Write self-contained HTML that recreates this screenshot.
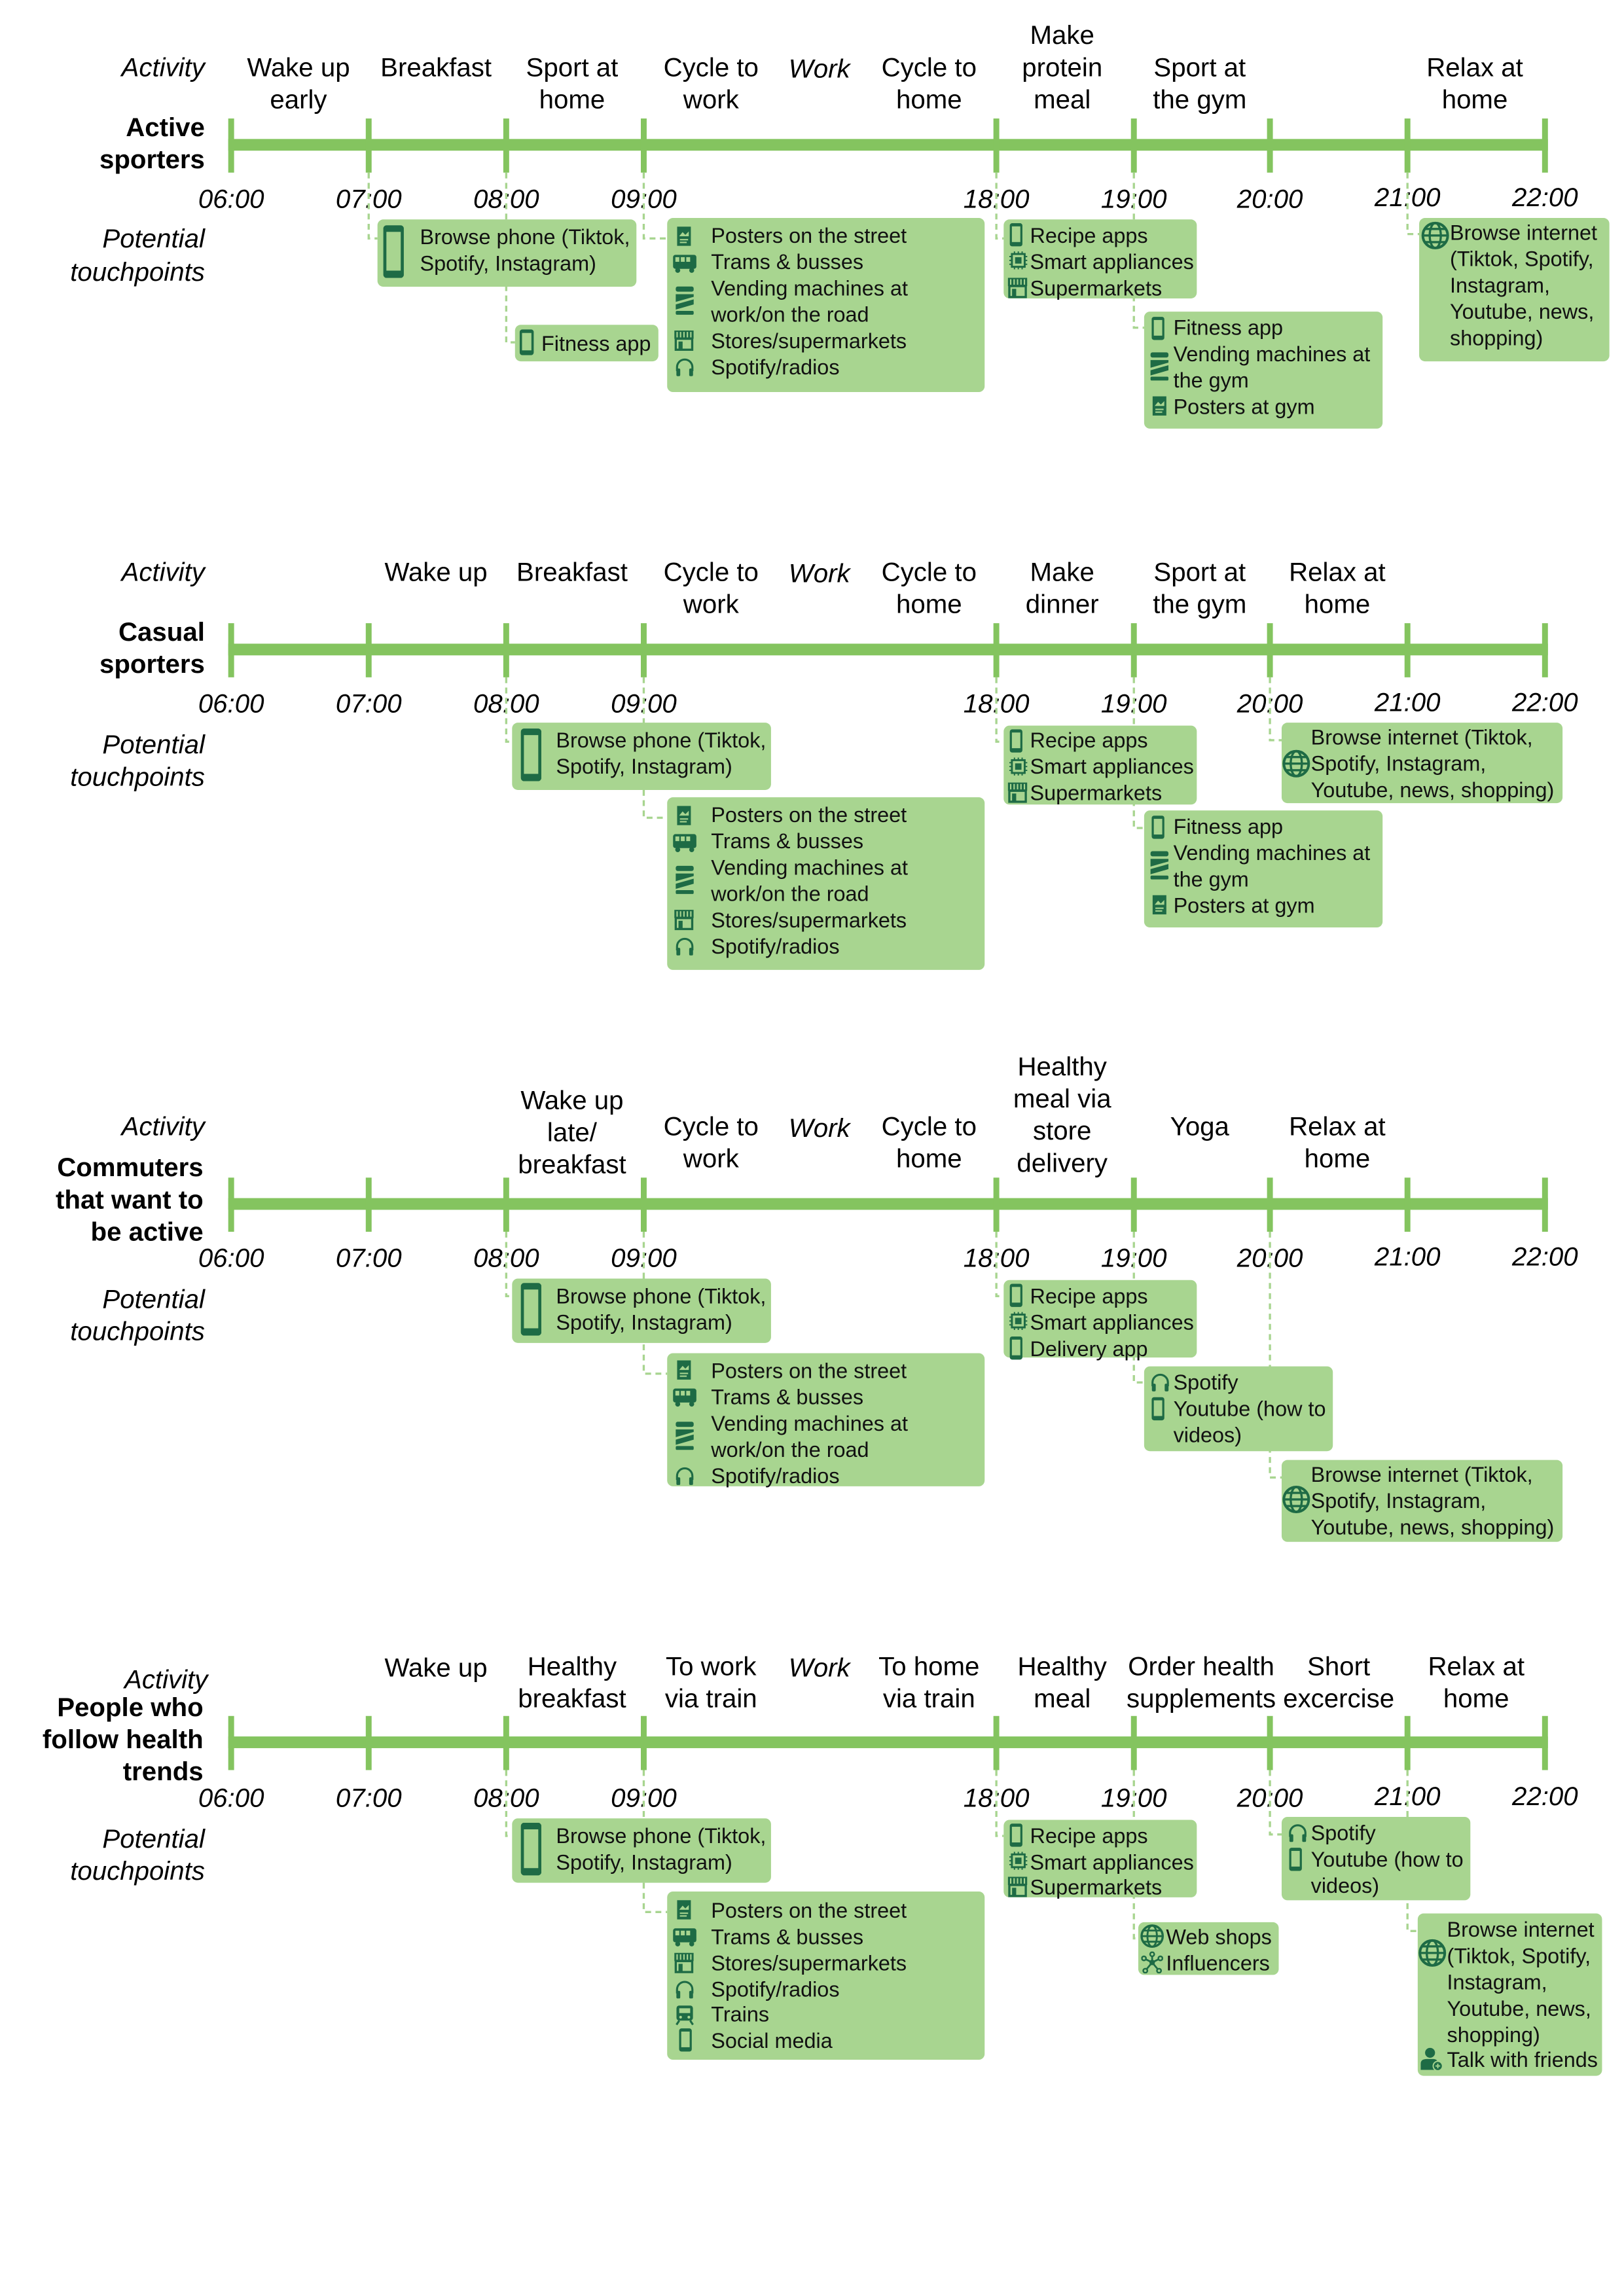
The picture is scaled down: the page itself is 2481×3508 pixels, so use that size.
<!DOCTYPE html>
<html><head><meta charset="utf-8"><style>
html,body{margin:0;padding:0;background:#fff;}
svg{display:block;}
text{font-family:"Liberation Sans",Arial,sans-serif;fill:#000;dominant-baseline:central;}
.a{font-size:18px;text-anchor:middle;}
.i{font-style:italic;}
.t{font-size:18px;font-style:italic;text-anchor:middle;}
.l{font-size:18px;text-anchor:end;}
.b{font-size:18px;font-weight:bold;text-anchor:end;}
.s{font-size:14.5px;fill:#111;}
.box{fill:#a8d590;}
.bar{fill:#84c45f;}
.c{fill:none;stroke:#a8d590;stroke-width:1.5;stroke-dasharray:4 3;}
</style></head><body>
<svg width="2481" height="3508" viewBox="0 0 1110 1569.5" preserveAspectRatio="none" xmlns="http://www.w3.org/2000/svg">
<defs>
<symbol id="ph" viewBox="0 0 10 18"><rect x="1" y="1" width="8" height="16" rx="1" fill="none" stroke="#1e6b45" stroke-width="1.6"/><rect x="1" y="14.5" width="8" height="2.5" fill="#1e6b45"/><rect x="1" y="1" width="8" height="1.6" fill="#1e6b45"/></symbol>
<symbol id="po" viewBox="0 0 16 16"><rect x="3" y="1" width="10" height="14" fill="#1e6b45"/><path d="M4.5 8 L7 5 L9 7 L11.5 4.5 V8Z" fill="#a8d590"/><rect x="5" y="10" width="6" height="1" fill="#a8d590"/><rect x="5" y="12" width="5" height="1" fill="#a8d590"/></symbol>
<symbol id="bu" viewBox="0 0 16 16"><rect x="0.5" y="3" width="15" height="9" rx="1.5" fill="#1e6b45"/><rect x="2" y="4.5" width="2.5" height="3" fill="#a8d590"/><rect x="5.5" y="4.5" width="2.5" height="3" fill="#a8d590"/><rect x="9" y="4.5" width="2.5" height="3" fill="#a8d590"/><circle cx="3.5" cy="13" r="1.6" fill="#1e6b45"/><circle cx="12.5" cy="13" r="1.6" fill="#1e6b45"/></symbol>
<symbol id="ve" viewBox="0 0 16 24"><rect x="1" y="1" width="14" height="4" rx="1.5" fill="#1e6b45"/><path d="M1 7 H15 V9 L1 13Z M1 15 L15 11 V15 L1 19Z" fill="#1e6b45"/><rect x="1" y="20" width="14" height="3" rx="1" fill="#1e6b45"/></symbol>
<symbol id="st" viewBox="0 0 16 16"><path d="M1 1 H15 V7 H1Z" fill="#1e6b45"/><path d="M3 2 V6 M5.5 2 V6 M8 2 V6 M10.5 2 V6 M13 2 V6" stroke="#a8d590" stroke-width="1"/><rect x="2" y="7" width="12" height="8" fill="none" stroke="#1e6b45" stroke-width="1.6"/><rect x="4" y="9" width="3" height="6" fill="#1e6b45"/></symbol>
<symbol id="hp" viewBox="0 0 16 16"><path d="M2 11 V8 A6 6 0 0 1 14 8 V11" fill="none" stroke="#1e6b45" stroke-width="1.6"/><rect x="1.5" y="9" width="3" height="6" rx="1" fill="#1e6b45"/><rect x="11.5" y="9" width="3" height="6" rx="1" fill="#1e6b45"/></symbol>
<symbol id="ch" viewBox="0 0 16 16"><rect x="3" y="3" width="10" height="10" fill="none" stroke="#1e6b45" stroke-width="1.5"/><rect x="5.5" y="5.5" width="5" height="5" fill="#1e6b45"/><path d="M5 1V3 M8 1V3 M11 1V3 M5 13V15 M8 13V15 M11 13V15 M1 5H3 M1 8H3 M1 11H3 M13 5H15 M13 8H15 M13 11H15" stroke="#1e6b45" stroke-width="1"/></symbol>
<symbol id="gl" viewBox="0 0 20 20"><circle cx="10" cy="10" r="8.5" fill="none" stroke="#1e6b45" stroke-width="1.8"/><ellipse cx="10" cy="10" rx="3.8" ry="8.5" fill="none" stroke="#1e6b45" stroke-width="1.5"/><path d="M1.5 10H18.5 M3 5.5H17 M3 14.5H17" stroke="#1e6b45" stroke-width="1.5"/></symbol>
<symbol id="nw" viewBox="0 0 16 16"><path d="M8 8 L8 2 M8 8 L2 5 M8 8 L14 5 M8 8 L3 14 M8 8 L13 14" stroke="#1e6b45" stroke-width="1.3"/><circle cx="8" cy="8" r="2" fill="#1e6b45"/><g fill="#a8d590" stroke="#1e6b45" stroke-width="1.2"><circle cx="8" cy="2" r="1.5"/><circle cx="2" cy="5" r="1.5"/><circle cx="14" cy="5" r="1.5"/><circle cx="3" cy="14" r="1.5"/><circle cx="13" cy="14" r="1.5"/></g></symbol>
<symbol id="pe" viewBox="0 0 16 16"><circle cx="7" cy="4" r="3.2" fill="#1e6b45"/><path d="M1 15 V11 Q1 8 5 8 H9 Q12 8 12 11 V15Z" fill="#1e6b45"/><circle cx="12" cy="12.5" r="3" fill="#1e6b45" stroke="#a8d590" stroke-width="0.8"/><path d="M12 11V14 M10.5 12.5H13.5" stroke="#a8d590" stroke-width="0.8"/></symbol>
<symbol id="tr" viewBox="0 0 16 16"><rect x="2" y="1" width="12" height="11" rx="2" fill="#1e6b45"/><rect x="4" y="3" width="8" height="3.5" fill="#a8d590"/><circle cx="5" cy="9.5" r="1" fill="#a8d590"/><circle cx="11" cy="9.5" r="1" fill="#a8d590"/><path d="M4 12 L2 15 M12 12 L14 15" stroke="#1e6b45" stroke-width="1.5"/></symbol>
<symbol id="bp" viewBox="0 0 14 36"><rect x="1" y="1" width="12" height="34" rx="1.5" fill="none" stroke="#1e6b45" stroke-width="2.2"/><rect x="1" y="1" width="12" height="3.5" fill="#1e6b45"/><rect x="1" y="31" width="12" height="4" fill="#1e6b45"/></symbol>
</defs>

<!-- ================= SECTION 1 ================= -->
<g>
<rect class="bar" x="156" y="95" width="902" height="8"/>
<g class="bar"><rect x="156" y="81" width="4" height="37"/><rect x="250" y="81" width="4" height="37"/><rect x="344" y="81" width="4" height="37"/><rect x="438" y="81" width="4" height="37"/><rect x="679" y="81" width="4" height="37"/><rect x="773" y="81" width="4" height="37"/><rect x="866" y="81" width="4" height="37"/><rect x="960" y="81" width="4" height="37"/><rect x="1054" y="81" width="4" height="37"/></g>
<text class="t" x="158" y="136">06:00</text><text class="t" x="252" y="136">07:00</text><text class="t" x="346" y="136">08:00</text><text class="t" x="440" y="136">09:00</text><text class="t" x="681" y="136">18:00</text><text class="t" x="775" y="136">19:00</text><text class="t" x="868" y="136">20:00</text><text class="t" x="962" y="135">21:00</text><text class="t" x="1056" y="135">22:00</text>
<text class="l i" x="140" y="46">Activity</text>
<text class="b" x="140" y="87">Active</text><text class="b" x="140" y="109">sporters</text>
<text class="l i" x="140" y="163">Potential</text><text class="l i" x="140" y="186">touchpoints</text>
<text class="a" x="204" y="46">Wake up</text><text class="a" x="204" y="68">early</text>
<text class="a" x="298" y="46">Breakfast</text>
<text class="a" x="391" y="46">Sport at</text><text class="a" x="391" y="68">home</text>
<text class="a" x="486" y="46">Cycle to</text><text class="a" x="486" y="68">work</text>
<text class="a i" x="560" y="47">Work</text>
<text class="a" x="635" y="46">Cycle to</text><text class="a" x="635" y="68">home</text>
<text class="a" x="726" y="24">Make</text><text class="a" x="726" y="46">protein</text><text class="a" x="726" y="68">meal</text>
<text class="a" x="820" y="46">Sport at</text><text class="a" x="820" y="68">the gym</text>
<text class="a" x="1008" y="46">Relax at</text><text class="a" x="1008" y="68">home</text>
<path class="c" d="M252 118 V163 H258"/><path class="c" d="M346 118 V234 H352"/><path class="c" d="M440 118 V163 H456"/><path class="c" d="M681 118 V163 H686"/><path class="c" d="M775 118 V224 H782"/><path class="c" d="M962 118 V160 H970"/>
<rect class="box" x="258" y="150" width="177" height="46" rx="4"/>
<use href="#bp" x="262" y="154" width="14" height="36"/>
<text class="s" x="287" y="162">Browse phone (Tiktok,</text><text class="s" x="287" y="180">Spotify, Instagram)</text>
<rect class="box" x="352" y="222" width="98" height="25" rx="4"/>
<use href="#ph" x="355" y="225" width="10" height="18"/><text class="s" x="370" y="235">Fitness app</text>
<rect class="box" x="456" y="149" width="217" height="119" rx="4"/>
<use href="#po" x="460" y="154" width="15" height="15"/><text class="s" x="486" y="161">Posters on the street</text>
<use href="#bu" x="459" y="171" width="18" height="17"/><text class="s" x="486" y="179">Trams &amp; busses</text>
<use href="#ve" x="461" y="195" width="14" height="21"/><text class="s" x="486" y="197">Vending machines at</text><text class="s" x="486" y="215">work/on the road</text>
<use href="#st" x="460" y="225" width="15" height="15"/><text class="s" x="486" y="233">Stores/supermarkets</text>
<use href="#hp" x="461" y="244" width="14" height="14"/><text class="s" x="486" y="251">Spotify/radios</text>
<rect class="box" x="686" y="150" width="132" height="54" rx="4"/>
<use href="#ph" x="690" y="152" width="9" height="17"/><text class="s" x="704" y="161">Recipe apps</text>
<use href="#ch" x="689" y="171" width="14" height="14"/><text class="s" x="704" y="179">Smart appliances</text>
<use href="#st" x="688" y="189" width="15" height="15"/><text class="s" x="704" y="197">Supermarkets</text>
<rect class="box" x="782" y="213" width="163" height="80" rx="4"/>
<use href="#ph" x="787" y="216" width="9" height="17"/><text class="s" x="802" y="224">Fitness app</text>
<use href="#ve" x="785" y="240" width="15" height="21"/><text class="s" x="802" y="242">Vending machines at</text><text class="s" x="802" y="260">the gym</text>
<use href="#po" x="785" y="270" width="15" height="15"/><text class="s" x="802" y="278">Posters at gym</text>
<rect class="box" x="970" y="149" width="130" height="98" rx="4"/>
<use href="#gl" x="971" y="151" width="20" height="20"/>
<text class="s" x="991" y="159">Browse internet</text><text class="s" x="991" y="177">(Tiktok, Spotify,</text><text class="s" x="991" y="195">Instagram,</text><text class="s" x="991" y="213">Youtube, news,</text><text class="s" x="991" y="231">shopping)</text>
</g>

<!-- ================= SECTION 2 ================= -->
<g>
<rect class="bar" x="156" y="440" width="902" height="8"/>
<g class="bar"><rect x="156" y="426" width="4" height="37"/><rect x="250" y="426" width="4" height="37"/><rect x="344" y="426" width="4" height="37"/><rect x="438" y="426" width="4" height="37"/><rect x="679" y="426" width="4" height="37"/><rect x="773" y="426" width="4" height="37"/><rect x="866" y="426" width="4" height="37"/><rect x="960" y="426" width="4" height="37"/><rect x="1054" y="426" width="4" height="37"/></g>
<text class="t" x="158" y="481">06:00</text><text class="t" x="252" y="481">07:00</text><text class="t" x="346" y="481">08:00</text><text class="t" x="440" y="481">09:00</text><text class="t" x="681" y="481">18:00</text><text class="t" x="775" y="481">19:00</text><text class="t" x="868" y="481">20:00</text><text class="t" x="962" y="480">21:00</text><text class="t" x="1056" y="480">22:00</text>
<text class="l i" x="140" y="391">Activity</text>
<text class="b" x="140" y="432">Casual</text><text class="b" x="140" y="454">sporters</text>
<text class="l i" x="140" y="509">Potential</text><text class="l i" x="140" y="531">touchpoints</text>
<text class="a" x="298" y="391">Wake up</text>
<text class="a" x="391" y="391">Breakfast</text>
<text class="a" x="486" y="391">Cycle to</text><text class="a" x="486" y="413">work</text>
<text class="a i" x="560" y="392">Work</text>
<text class="a" x="635" y="391">Cycle to</text><text class="a" x="635" y="413">home</text>
<text class="a" x="726" y="391">Make</text><text class="a" x="726" y="413">dinner</text>
<text class="a" x="820" y="391">Sport at</text><text class="a" x="820" y="413">the gym</text>
<text class="a" x="914" y="391">Relax at</text><text class="a" x="914" y="413">home</text>
<path class="c" d="M346 463 V507 H350"/><path class="c" d="M440 463 V559 H456"/><path class="c" d="M681 463 V507 H686"/><path class="c" d="M775 463 V566 H782"/><path class="c" d="M868 463 V506 H876"/>
<rect class="box" x="350" y="494" width="177" height="46" rx="4"/>
<use href="#bp" x="356" y="498" width="14" height="36"/>
<text class="s" x="380" y="506">Browse phone (Tiktok,</text><text class="s" x="380" y="524">Spotify, Instagram)</text>
<rect class="box" x="456" y="545" width="217" height="118" rx="4"/>
<use href="#po" x="460" y="550" width="15" height="15"/><text class="s" x="486" y="557">Posters on the street</text>
<use href="#bu" x="459" y="567" width="18" height="17"/><text class="s" x="486" y="575">Trams &amp; busses</text>
<use href="#ve" x="461" y="591" width="14" height="21"/><text class="s" x="486" y="593">Vending machines at</text><text class="s" x="486" y="611">work/on the road</text>
<use href="#st" x="460" y="621" width="15" height="15"/><text class="s" x="486" y="629">Stores/supermarkets</text>
<use href="#hp" x="461" y="640" width="14" height="14"/><text class="s" x="486" y="647">Spotify/radios</text>
<rect class="box" x="686" y="496" width="132" height="54" rx="4"/>
<use href="#ph" x="690" y="498" width="9" height="17"/><text class="s" x="704" y="506">Recipe apps</text>
<use href="#ch" x="689" y="517" width="14" height="14"/><text class="s" x="704" y="524">Smart appliances</text>
<use href="#st" x="688" y="534" width="15" height="15"/><text class="s" x="704" y="542">Supermarkets</text>
<rect class="box" x="782" y="554" width="163" height="80" rx="4"/>
<use href="#ph" x="787" y="557" width="9" height="17"/><text class="s" x="802" y="565">Fitness app</text>
<use href="#ve" x="785" y="581" width="15" height="21"/><text class="s" x="802" y="583">Vending machines at</text><text class="s" x="802" y="601">the gym</text>
<use href="#po" x="785" y="611" width="15" height="15"/><text class="s" x="802" y="619">Posters at gym</text>
<rect class="box" x="876" y="494" width="192" height="55" rx="4"/>
<use href="#gl" x="876" y="512" width="20" height="20"/>
<text class="s" x="896" y="504">Browse internet (Tiktok,</text><text class="s" x="896" y="522">Spotify, Instagram,</text><text class="s" x="896" y="540">Youtube, news, shopping)</text>
</g>

<!-- ================= SECTION 3 ================= -->
<g>
<rect class="bar" x="156" y="819" width="902" height="8"/>
<g class="bar"><rect x="156" y="805" width="4" height="37"/><rect x="250" y="805" width="4" height="37"/><rect x="344" y="805" width="4" height="37"/><rect x="438" y="805" width="4" height="37"/><rect x="679" y="805" width="4" height="37"/><rect x="773" y="805" width="4" height="37"/><rect x="866" y="805" width="4" height="37"/><rect x="960" y="805" width="4" height="37"/><rect x="1054" y="805" width="4" height="37"/></g>
<text class="t" x="158" y="860">06:00</text><text class="t" x="252" y="860">07:00</text><text class="t" x="346" y="860">08:00</text><text class="t" x="440" y="860">09:00</text><text class="t" x="681" y="860">18:00</text><text class="t" x="775" y="860">19:00</text><text class="t" x="868" y="860">20:00</text><text class="t" x="962" y="859">21:00</text><text class="t" x="1056" y="859">22:00</text>
<text class="l i" x="140" y="770">Activity</text>
<text class="b" x="139" y="798">Commuters</text><text class="b" x="139" y="820">that want to</text><text class="b" x="139" y="842">be active</text>
<text class="l i" x="140" y="888">Potential</text><text class="l i" x="140" y="910">touchpoints</text>
<text class="a" x="391" y="752">Wake up</text><text class="a" x="391" y="774">late/</text><text class="a" x="391" y="796">breakfast</text>
<text class="a" x="486" y="770">Cycle to</text><text class="a" x="486" y="792">work</text>
<text class="a i" x="560" y="771">Work</text>
<text class="a" x="635" y="770">Cycle to</text><text class="a" x="635" y="792">home</text>
<text class="a" x="726" y="729">Healthy</text><text class="a" x="726" y="751">meal via</text><text class="a" x="726" y="773">store</text><text class="a" x="726" y="795">delivery</text>
<text class="a" x="820" y="770">Yoga</text>
<text class="a" x="914" y="770">Relax at</text><text class="a" x="914" y="792">home</text>
<path class="c" d="M346 842 V886 H350"/><path class="c" d="M440 842 V939 H456"/><path class="c" d="M681 842 V886 H686"/><path class="c" d="M775 842 V945 H782"/><path class="c" d="M868 842 V1010 H876"/>
<rect class="box" x="350" y="874" width="177" height="44" rx="4"/>
<use href="#bp" x="356" y="877" width="14" height="36"/>
<text class="s" x="380" y="886">Browse phone (Tiktok,</text><text class="s" x="380" y="904">Spotify, Instagram)</text>
<rect class="box" x="456" y="925" width="217" height="91" rx="4"/>
<use href="#po" x="460" y="929" width="15" height="15"/><text class="s" x="486" y="937">Posters on the street</text>
<use href="#bu" x="459" y="946" width="18" height="17"/><text class="s" x="486" y="955">Trams &amp; busses</text>
<use href="#ve" x="461" y="971" width="14" height="21"/><text class="s" x="486" y="973">Vending machines at</text><text class="s" x="486" y="991">work/on the road</text>
<use href="#hp" x="461" y="1002" width="14" height="14"/><text class="s" x="486" y="1009">Spotify/radios</text>
<rect class="box" x="686" y="875" width="132" height="53" rx="4"/>
<use href="#ph" x="690" y="877" width="9" height="17"/><text class="s" x="704" y="886">Recipe apps</text>
<use href="#ch" x="689" y="896" width="14" height="14"/><text class="s" x="704" y="904">Smart appliances</text>
<use href="#ph" x="690" y="913" width="9" height="17"/><text class="s" x="704" y="922">Delivery app</text>
<rect class="box" x="782" y="934" width="129" height="58" rx="4"/>
<use href="#hp" x="786" y="938" width="14" height="14"/><text class="s" x="802" y="945">Spotify</text>
<use href="#ph" x="787" y="954" width="9" height="18"/><text class="s" x="802" y="963">Youtube (how to</text><text class="s" x="802" y="981">videos)</text>
<rect class="box" x="876" y="998" width="192" height="56" rx="4"/>
<use href="#gl" x="876" y="1015" width="20" height="20"/>
<text class="s" x="896" y="1008">Browse internet (Tiktok,</text><text class="s" x="896" y="1026">Spotify, Instagram,</text><text class="s" x="896" y="1044">Youtube, news, shopping)</text>
</g>

<!-- ================= SECTION 4 ================= -->
<g>
<rect class="bar" x="156" y="1187" width="902" height="8"/>
<g class="bar"><rect x="156" y="1173" width="4" height="37"/><rect x="250" y="1173" width="4" height="37"/><rect x="344" y="1173" width="4" height="37"/><rect x="438" y="1173" width="4" height="37"/><rect x="679" y="1173" width="4" height="37"/><rect x="773" y="1173" width="4" height="37"/><rect x="866" y="1173" width="4" height="37"/><rect x="960" y="1173" width="4" height="37"/><rect x="1054" y="1173" width="4" height="37"/></g>
<text class="t" x="158" y="1229">06:00</text><text class="t" x="252" y="1229">07:00</text><text class="t" x="346" y="1229">08:00</text><text class="t" x="440" y="1229">09:00</text><text class="t" x="681" y="1229">18:00</text><text class="t" x="775" y="1229">19:00</text><text class="t" x="868" y="1229">20:00</text><text class="t" x="962" y="1228">21:00</text><text class="t" x="1056" y="1228">22:00</text>
<text class="l i" x="142" y="1148">Activity</text>
<text class="b" x="139" y="1167">People who</text><text class="b" x="139" y="1189">follow health</text><text class="b" x="139" y="1211">trends</text>
<text class="l i" x="140" y="1257">Potential</text><text class="l i" x="140" y="1279">touchpoints</text>
<text class="a" x="298" y="1140">Wake up</text>
<text class="a" x="391" y="1139">Healthy</text><text class="a" x="391" y="1161">breakfast</text>
<text class="a" x="486" y="1139">To work</text><text class="a" x="486" y="1161">via train</text>
<text class="a i" x="560" y="1140">Work</text>
<text class="a" x="635" y="1139">To home</text><text class="a" x="635" y="1161">via train</text>
<text class="a" x="726" y="1139">Healthy</text><text class="a" x="726" y="1161">meal</text>
<text class="a" x="821" y="1139">Order health</text><text class="a" x="821" y="1161">supplements</text>
<text class="a" x="915" y="1139">Short</text><text class="a" x="915" y="1161">excercise</text>
<text class="a" x="1009" y="1139">Relax at</text><text class="a" x="1009" y="1161">home</text>
<path class="c" d="M346 1210 V1255 H350"/><path class="c" d="M440 1210 V1307 H456"/><path class="c" d="M681 1210 V1255 H686"/><path class="c" d="M775 1210 V1325 H778"/><path class="c" d="M868 1210 V1254 H876"/><path class="c" d="M962 1210 V1320 H969"/>
<rect class="box" x="350" y="1243" width="177" height="44" rx="4"/>
<use href="#bp" x="356" y="1246" width="14" height="36"/>
<text class="s" x="380" y="1255">Browse phone (Tiktok,</text><text class="s" x="380" y="1273">Spotify, Instagram)</text>
<rect class="box" x="456" y="1293" width="217" height="115" rx="4"/>
<use href="#po" x="460" y="1298" width="15" height="15"/><text class="s" x="486" y="1306">Posters on the street</text>
<use href="#bu" x="459" y="1315" width="18" height="17"/><text class="s" x="486" y="1324">Trams &amp; busses</text>
<use href="#st" x="460" y="1334" width="15" height="15"/><text class="s" x="486" y="1342">Stores/supermarkets</text>
<use href="#hp" x="461" y="1353" width="14" height="14"/><text class="s" x="486" y="1360">Spotify/radios</text>
<use href="#tr" x="460" y="1370" width="16" height="15"/><text class="s" x="486" y="1377">Trains</text>
<use href="#ph" x="464" y="1386" width="9" height="17"/><text class="s" x="486" y="1395">Social media</text>
<rect class="box" x="686" y="1244" width="132" height="53" rx="4"/>
<use href="#ph" x="690" y="1246" width="9" height="17"/><text class="s" x="704" y="1255">Recipe apps</text>
<use href="#ch" x="689" y="1265" width="14" height="14"/><text class="s" x="704" y="1273">Smart appliances</text>
<use href="#st" x="688" y="1282" width="15" height="15"/><text class="s" x="704" y="1290">Supermarkets</text>
<rect class="box" x="778" y="1314" width="96" height="36" rx="4"/>
<use href="#gl" x="779" y="1315" width="17" height="17"/><text class="s" x="797" y="1324">Web shops</text>
<use href="#nw" x="780" y="1334" width="15" height="15"/><text class="s" x="797" y="1342">Influencers</text>
<rect class="box" x="876" y="1242" width="129" height="57" rx="4"/>
<use href="#hp" x="880" y="1246" width="14" height="14"/><text class="s" x="896" y="1253">Spotify</text>
<use href="#ph" x="881" y="1262" width="9" height="18"/><text class="s" x="896" y="1271">Youtube (how to</text><text class="s" x="896" y="1289">videos)</text>
<rect class="box" x="969" y="1308" width="126" height="111" rx="4"/>
<use href="#gl" x="969" y="1325" width="20" height="20"/>
<use href="#pe" x="970" y="1399" width="17" height="17"/>
<text class="s" x="989" y="1319">Browse internet</text><text class="s" x="989" y="1337">(Tiktok, Spotify,</text><text class="s" x="989" y="1355">Instagram,</text><text class="s" x="989" y="1373">Youtube, news,</text><text class="s" x="989" y="1391">shopping)</text><text class="s" x="989" y="1408">Talk with friends</text>
</g>
</svg>
</body></html>
